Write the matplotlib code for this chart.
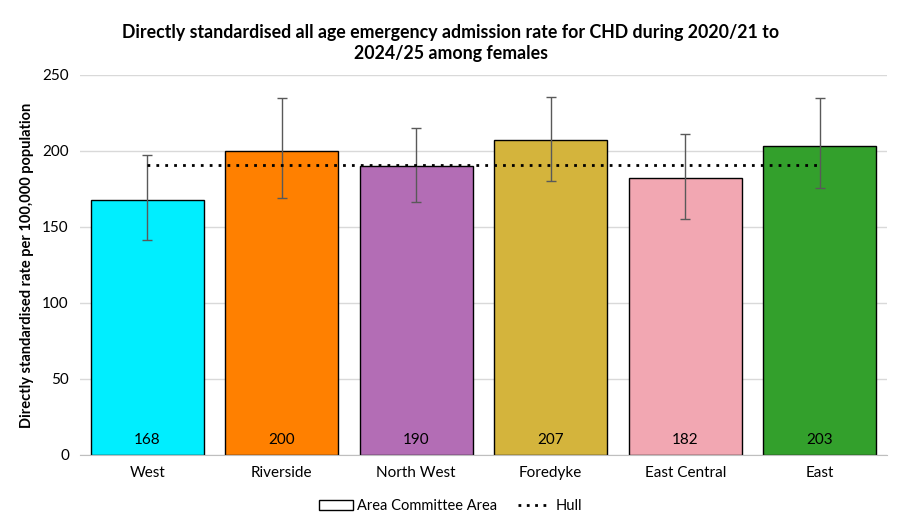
import matplotlib
matplotlib.use("Agg")
import matplotlib.pyplot as plt
from matplotlib.patches import Patch
from matplotlib.lines import Line2D

categories = ["West", "Riverside", "North West", "Foredyke", "East Central", "East"]
values = [168, 200, 190, 207, 182, 203]
ci_lower = [141.5, 169, 166.5, 180.5, 155.5, 175.5]
ci_upper = [197.5, 235, 215, 235.5, 211.5, 235]
hull_value = 191
colors = ["#00EEFF", "#FF8000", "#B36DB5", "#D4B43C", "#F2A7B2", "#33A02C"]
yticks = [0, 50, 100, 150, 200, 250]

plt.rcParams['font.family'] = ['Lato', 'DejaVu Sans']

fig = plt.figure(figsize=(9.01, 5.29), dpi=100)
ax = fig.add_axes([80/901, 1-455/529, (887-80)/901, (455-75)/529])

x = list(range(len(categories)))
ax.bar(x, values, width=0.84, color=colors, edgecolor="black", linewidth=1.0, zorder=2)
yerr = [[v - l for v, l in zip(values, ci_lower)], [u - v for v, u in zip(values, ci_upper)]]
ax.errorbar(x, values, yerr=yerr, fmt="none", ecolor="#595959", elinewidth=1.0,
            capsize=3.5, capthick=1.0, zorder=3)
ax.plot([x[0], x[-1]], [hull_value, hull_value], linestyle=(0, (1, 2.2)), color="black",
        linewidth=2.0, zorder=4)

for xi, v in zip(x, values):
    ax.text(xi, 10, f"{v}", ha="center", va="center", fontsize=11, color="black", zorder=5)

ax.set_xlim(-0.5, len(categories) - 0.5)
ax.set_ylim(0, 250)
ax.set_yticks(yticks)
ax.set_yticklabels([str(t) for t in yticks], fontsize=11)
ax.set_xticks(x)
ax.set_xticklabels(categories, fontsize=11)
ax.tick_params(axis="both", length=0, pad=8)
ax.grid(axis="y", color="#D9D9D9", linewidth=1, zorder=0)
ax.set_axisbelow(True)
for s in ["top", "right", "left"]:
    ax.spines[s].set_visible(False)
ax.spines["bottom"].set_color("#BFBFBF")
ax.set_ylabel("Directly standardised rate per 100,000 population", fontsize=10.5,
              fontweight="bold", labelpad=6)

fig.suptitle("Directly standardised all age emergency admission rate for CHD during 2020/21 to\n2024/25 among females",
             fontsize=12.8, fontweight="bold", y=0.955, x=0.5, linespacing=1.3)

handles = [Patch(facecolor="white", edgecolor="black", linewidth=1.0),
           Line2D([0], [0], linestyle=(0, (1, 2)), color="black", linewidth=2.0)]
fig.legend(handles, ["Area Committee Area", "Hull"], loc="center", bbox_to_anchor=(0.5, 1-506/529),
           ncol=2, frameon=False, fontsize=10.5, handlelength=2.3, handleheight=0.7,
           columnspacing=1.4, handletextpad=0.3)

fig.savefig("out.png", dpi=100)
